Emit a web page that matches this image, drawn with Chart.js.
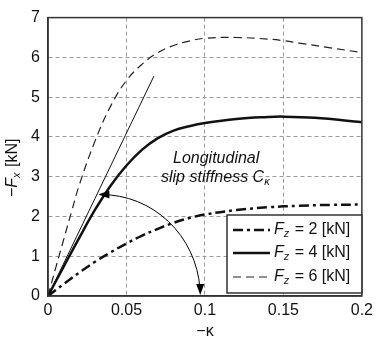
<!DOCTYPE html>
<html>
<head>
<meta charset="utf-8">
<script src="https://cdn.jsdelivr.net/npm/chart.js@4"></script>
<style>
  html, body { margin: 0; padding: 0; background: #fff; }
  #wrap { width: 378px; height: 342px; }
</style>
</head>
<body>
<div id="wrap"><canvas id="tyreChart" width="378" height="342"></canvas></div>
<script>
// slip values (-kappa)
const slip2 = [0, 0.01, 0.02, 0.03, 0.04, 0.05, 0.06, 0.07, 0.08, 0.09, 0.1, 0.12, 0.14, 0.16, 0.18, 0.2];
const force2 = [0, 0.3, 0.59, 0.86, 1.1, 1.32, 1.52, 1.69, 1.84, 1.96, 2.05, 2.16, 2.23, 2.27, 2.29, 2.3];

const slip4 = [0, 0.01, 0.02, 0.03, 0.04, 0.05, 0.06, 0.07, 0.08, 0.09, 0.1, 0.12, 0.14, 0.15, 0.17, 0.2];
const force4 = [0, 0.74, 1.47, 2.17, 2.78, 3.28, 3.68, 3.97, 4.16, 4.27, 4.35, 4.45, 4.5, 4.51, 4.48, 4.37];

const slip6 = [0, 0.005, 0.01, 0.015, 0.02, 0.03, 0.04, 0.05, 0.06, 0.07, 0.08, 0.09, 0.1, 0.12, 0.14, 0.15, 0.16, 0.18, 0.2];
const force6 = [0, 0.72, 1.42, 2.12, 2.8, 3.9, 4.78, 5.42, 5.83, 6.12, 6.3, 6.41, 6.48, 6.5, 6.46, 6.42, 6.36, 6.24, 6.12];

// tangent line (slip stiffness)
const tangentSlip = [0, 0.0675];
const tangentForce = [0, 5.53];

const xTickLabels = ['0', '0.05', '0.1', '0.15', '0.2'];
const legendLabels = ['2', '4', '6'];

// double arrow: from tangent point down to the axis
const arrowStart = [0.034, 2.55];
const arrowEnd = [0.097, 0];

const FONT = "'Liberation Sans', Arial, sans-serif";
const SIZE = 16;

function pts(xs, ys) {
  return xs.map((x, i) => ({ x: x, y: ys[i] }));
}

function drawSubText(ctx, x, y, main, sub, rest, size) {
  // italic main letter + italic subscript + upright rest
  ctx.font = 'italic ' + size + 'px ' + FONT;
  ctx.fillText(main, x, y);
  let w = ctx.measureText(main).width;
  ctx.font = 'italic ' + Math.round(size * 0.7) + 'px ' + FONT;
  ctx.fillText(sub, x + w, y + size * 0.25);
  w += ctx.measureText(sub).width;
  ctx.font = size + 'px ' + FONT;
  ctx.fillText(rest, x + w + 1, y);
}

const extras = {
  id: 'extras',
  afterDatasetsDraw(chart) {
    const ctx = chart.ctx;
    const a = chart.chartArea;
    const xs = chart.scales.x, ys = chart.scales.y;
    ctx.save();

    // frame
    ctx.strokeStyle = '#333';
    ctx.lineWidth = 1.5;
    ctx.strokeRect(a.left, a.top, a.right - a.left, a.bottom - a.top);

    // arc arrow
    const cx = xs.getPixelForValue(arrowStart[0]);
    const cy = ys.getPixelForValue(arrowEnd[1]);
    const rx = xs.getPixelForValue(arrowEnd[0]) - cx;
    const ry = cy - ys.getPixelForValue(arrowStart[1]);
    ctx.strokeStyle = '#000';
    ctx.lineWidth = 1;
    ctx.beginPath();
    ctx.ellipse(cx, cy, rx, ry, 0, -Math.PI / 2, -0.08);
    ctx.stroke();
    ctx.fillStyle = '#000';
    // left head
    ctx.beginPath();
    ctx.moveTo(cx - 3, cy - ry);
    ctx.lineTo(cx + 8, cy - ry - 4);
    ctx.lineTo(cx + 8, cy - ry + 4);
    ctx.closePath();
    ctx.fill();
    // bottom head
    const bx = cx + rx;
    ctx.beginPath();
    ctx.moveTo(bx, cy - 1);
    ctx.lineTo(bx - 4, cy - 12);
    ctx.lineTo(bx + 4, cy - 12);
    ctx.closePath();
    ctx.fill();

    // annotation text
    ctx.fillStyle = '#111';
    ctx.textBaseline = 'middle';
    ctx.textAlign = 'left';
    ctx.font = 'italic ' + SIZE + 'px ' + FONT;
    ctx.fillText('Longitudinal', 173, 159);
    ctx.fillText('slip stiffness C', 161, 178);
    const w = ctx.measureText('slip stiffness C').width;
    ctx.font = 'italic 11px ' + FONT;
    ctx.fillText('\u03ba', 161 + w, 182);

    // legend box
    const lx = 227, ly = 215, lw = a.right - 227, lh = 78;
    ctx.fillStyle = '#fff';
    ctx.fillRect(lx, ly, lw, lh);
    ctx.strokeStyle = '#333';
    ctx.lineWidth = 1.5;
    ctx.strokeRect(lx, ly, lw, lh);
    const rows = [230, 253, 277];
    chart.data.datasets.slice(0, 3).forEach((ds, i) => {
      ctx.strokeStyle = ds.borderColor;
      ctx.lineWidth = ds.borderWidth;
      ctx.setLineDash(ds.borderDash || []);
      ctx.beginPath();
      ctx.moveTo(233, rows[i]);
      ctx.lineTo(270, rows[i]);
      ctx.stroke();
      ctx.setLineDash([]);
      ctx.fillStyle = '#111';
      drawSubText(ctx, 274, rows[i], 'F', 'z', ' = ' + legendLabels[i] + ' [kN]', SIZE);
    });

    // axis titles
    ctx.fillStyle = '#111';
    ctx.textAlign = 'center';
    ctx.font = SIZE + 'px ' + FONT;
    ctx.fillText('\u2212\u03ba', 205, 332);

    ctx.translate(13, 161);
    ctx.rotate(-Math.PI / 2);
    ctx.textAlign = 'left';
    ctx.font = SIZE + 'px ' + FONT;
    const minusW = ctx.measureText('\u2212').width;
    ctx.fillText('\u2212', -36, 0);
    drawSubText(ctx, -36 + minusW, 0, 'F', 'x', ' [kN]', SIZE);
    ctx.restore();
  }
};

const gridColor = (ctx) => (ctx.index === 0 || ctx.index === ctx.chart.scales[ctx.scale.id].ticks.length - 1) ? 'rgba(0,0,0,0)' : '#9a9a9a';

new Chart(document.getElementById('tyreChart'), {
  type: 'line',
  data: {
    datasets: [
      {
        label: 'Fz = 2 [kN]',
        data: pts(slip2, force2),
        borderColor: '#111',
        borderWidth: 2.5,
        borderDash: [10, 4, 3, 4]
      },
      {
        label: 'Fz = 4 [kN]',
        data: pts(slip4, force4),
        borderColor: '#111',
        borderWidth: 2.5
      },
      {
        label: 'Fz = 6 [kN]',
        data: pts(slip6, force6),
        borderColor: '#222',
        borderWidth: 1.2,
        borderDash: [8, 5]
      },
      {
        label: 'tangent',
        data: pts(tangentSlip, tangentForce),
        borderColor: '#111',
        borderWidth: 1
      }
    ]
  },
  options: {
    responsive: false,
    animation: false,
    parsing: false,
    tension: 0.4,
    elements: { point: { radius: 0 } },
    layout: { padding: { left: 0, right: 15, top: 9, bottom: 0 } },
    plugins: { legend: { display: false }, tooltip: { enabled: false } },
    scales: {
      x: {
        type: 'linear',
        min: 0,
        max: 0.2,
        afterFit: (s) => { s.height = 46; },
        ticks: {
          stepSize: 0.05,
          padding: 5,
          color: '#111',
          font: { family: FONT, size: SIZE },
          maxRotation: 0,
          callback: (v, i) => xTickLabels[i]
        },
        grid: { color: gridColor, tickLength: 0, drawTicks: false },
        border: { display: true, color: '#333', width: 1.5, dash: [4, 3] }
      },
      y: {
        min: 0,
        max: 7,
        afterFit: (s) => { s.width = 48; },
        ticks: {
          stepSize: 1,
          padding: 8,
          color: '#111',
          font: { family: FONT, size: SIZE }
        },
        grid: { color: gridColor, drawTicks: false },
        border: { display: true, color: '#333', width: 1.5, dash: [4, 3] }
      }
    }
  },
  plugins: [extras]
});
</script>
</body>
</html>
